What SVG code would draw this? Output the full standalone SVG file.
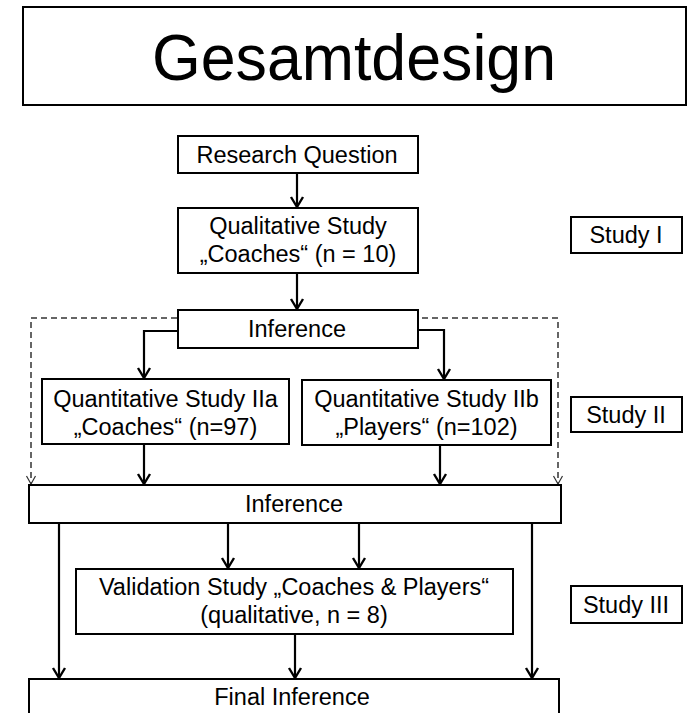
<svg xmlns="http://www.w3.org/2000/svg" width="689" height="713" viewBox="0 0 689 713">
  <style>
    .box { fill: #ffffff; stroke: #000000; stroke-width: 2; }
    .lbl { font-family: "Liberation Sans", Arial, sans-serif; font-size: 23.5px; fill: #000000; text-anchor: middle; }
    .title { font-family: "Liberation Sans", Arial, sans-serif; font-size: 64px; fill: #000000; }
    .flow { fill: none; stroke: #000000; stroke-width: 2.2; marker-end: url(#arrow); }
    .dash { fill: none; stroke: #333333; stroke-width: 1.5; stroke-dasharray: 6 4; marker-end: url(#arrowThin); }
  </style>
  <defs>
    <marker id="arrow" markerUnits="userSpaceOnUse" markerWidth="16" markerHeight="16" viewBox="-12 -8 14 16" refX="0" refY="0" orient="auto">
      <path d="M-10,-6 L0,0 L-10,6" fill="none" stroke="#000000" stroke-width="2.4"/>
    </marker>
    <marker id="arrowThin" markerUnits="userSpaceOnUse" markerWidth="14" markerHeight="14" viewBox="-10 -7 12 14" refX="0" refY="0" orient="auto">
      <path d="M-8,-4.5 L0,0 L-8,4.5" fill="none" stroke="#333333" stroke-width="1.2"/>
    </marker>
  </defs>

  <rect width="689" height="713" fill="#ffffff"/>

  <g id="title">
    <rect class="box" x="23" y="7" width="663" height="98"/>
    <text class="title" x="152" y="80" textLength="404" lengthAdjust="spacingAndGlyphs">Gesamtdesign</text>
  </g>

  <g id="connectors">
    <path class="flow" d="M297,173 V207"/>
    <path class="flow" d="M297,273 V309"/>
    <path class="flow" d="M178,331 H144 V378"/>
    <path class="flow" d="M418,330 H444 V379"/>
    <path class="flow" d="M144,444 V484"/>
    <path class="flow" d="M440,445 V484"/>
    <path class="flow" d="M59,523 V678"/>
    <path class="flow" d="M228,523 V568"/>
    <path class="flow" d="M359,523 V568"/>
    <path class="flow" d="M295,634 V678"/>
    <path class="flow" d="M532,523 V678"/>
    <path class="dash" d="M177,318 H31 V484"/>
    <path class="dash" d="M422,318 H558 V484"/>
  </g>

  <g id="research-question">
    <rect class="box" x="178" y="136" width="240" height="37"/>
    <text class="lbl" x="297" y="163">Research Question</text>
  </g>

  <g id="qualitative-study">
    <rect class="box" x="178" y="208" width="240" height="65"/>
    <text class="lbl" x="298" y="234">Qualitative Study</text>
    <text class="lbl" x="298" y="262">„Coaches“ (n = 10)</text>
  </g>

  <g id="inference-1">
    <rect class="box" x="178" y="310" width="240" height="38"/>
    <text class="lbl" x="297" y="337">Inference</text>
  </g>

  <g id="study-2a">
    <rect class="box" x="42" y="379" width="247" height="65"/>
    <text class="lbl" x="165.5" y="407">Quantitative Study IIa</text>
    <text class="lbl" x="165.5" y="435">„Coaches“ (n=97)</text>
  </g>

  <g id="study-2b">
    <rect class="box" x="302" y="380" width="249" height="65"/>
    <text class="lbl" x="426.5" y="407">Quantitative Study IIb</text>
    <text class="lbl" x="426.5" y="435">„Players“ (n=102)</text>
  </g>

  <g id="inference-2">
    <rect class="box" x="29" y="485" width="532" height="38"/>
    <text class="lbl" x="294" y="512">Inference</text>
  </g>

  <g id="validation-study">
    <rect class="box" x="76" y="569" width="437" height="65"/>
    <text class="lbl" x="294" y="595">Validation Study „Coaches &amp; Players“</text>
    <text class="lbl" x="294" y="623">(qualitative, n = 8)</text>
  </g>

  <g id="final-inference">
    <rect class="box" x="29" y="679" width="530" height="60"/>
    <text class="lbl" x="292" y="705">Final Inference</text>
  </g>

  <g id="label-study-1">
    <rect class="box" x="571" y="217" width="111" height="36"/>
    <text class="lbl" x="626" y="243">Study I</text>
  </g>

  <g id="label-study-2">
    <rect class="box" x="571" y="397" width="111" height="35"/>
    <text class="lbl" x="626" y="423">Study II</text>
  </g>

  <g id="label-study-3">
    <rect class="box" x="571" y="586" width="111" height="37"/>
    <text class="lbl" x="626" y="613">Study III</text>
  </g>
</svg>
